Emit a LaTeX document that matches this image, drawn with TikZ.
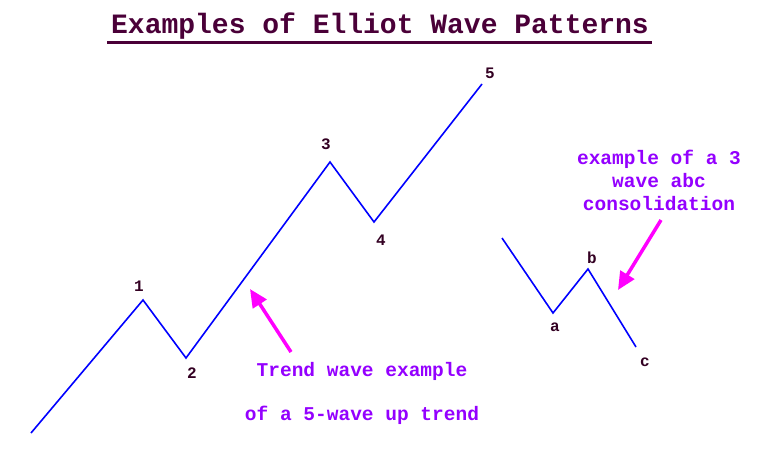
\documentclass[tikz,border=0pt]{standalone}
\usepackage{fontspec}
\setmainfont{Liberation Mono}
\usetikzlibrary{arrows.meta}
\definecolor{titlecol}{HTML}{4A0038}
\definecolor{lblcol}{HTML}{330022}
\definecolor{txtcol}{HTML}{9400FF}
\definecolor{wavecol}{HTML}{0000FF}
\definecolor{arrcol}{HTML}{FF00FF}
\tikzset{
  wave/.style={draw=wavecol, line width=1.6pt},
  lbl/.style={text=lblcol, font=\bfseries\fontsize{16}{16}\selectfont, inner sep=0pt},
  note/.style={text=txtcol, font=\bfseries\fontsize{19.5}{23}\selectfont, inner sep=0pt, align=center},
  pointer/.style={draw=arrcol, line width=3.5pt, -{Triangle[length=18pt,width=16pt]}}
}
\begin{document}
\begin{tikzpicture}[x=1pt,y=-1pt]
\useasboundingbox (0,0) rectangle (765,448);
% title
\node[text=titlecol, font=\bfseries\fontsize{28}{28}\selectfont, inner sep=0pt] (title) at (380,26) {Examples of Elliot Wave Patterns};
\draw[titlecol, line width=3pt] (107,42.5) -- (652,42.5);
% trend wave
\coordinate (s0) at (31,433);
\coordinate (w1) at (143,300);
\coordinate (w2) at (186,358);
\coordinate (w3) at (330,162);
\coordinate (w4) at (374,222);
\coordinate (w5) at (482,84);
\draw[wave] (s0) -- (w1) -- (w2) -- (w3) -- (w4) -- (w5);
\node[lbl] (l1) at (139,286) {1};
\node[lbl] (l2) at (192,373) {2};
\node[lbl] (l3) at (326,144) {3};
\node[lbl] (l4) at (381,240) {4};
\node[lbl] (l5) at (490,73) {5};
% abc wave
\coordinate (c0) at (502,238);
\coordinate (ca) at (553,313);
\coordinate (cb) at (588,269);
\coordinate (cc) at (636,347);
\draw[wave] (c0) -- (ca) -- (cb) -- (cc);
\node[lbl] (la) at (555,327) {a};
\node[lbl] (lb) at (592,258) {b};
\node[lbl] (lc) at (645,362) {c};
% notes
\node[note] (t1) at (362,371) {Trend wave example};
\node[note] (t2) at (362,415) {of a 5-wave up trend};
\node[note] (t3) at (659,180) {example of a 3\\wave abc\\consolidation};
% pointers
\coordinate (p1s) at (291,352);
\coordinate (p1e) at (250,289);
\coordinate (p2s) at (661,220);
\coordinate (p2e) at (618,290);
\draw[pointer] (p1s) -- (p1e);
\draw[pointer] (p2s) -- (p2e);
\end{tikzpicture}
\end{document}
